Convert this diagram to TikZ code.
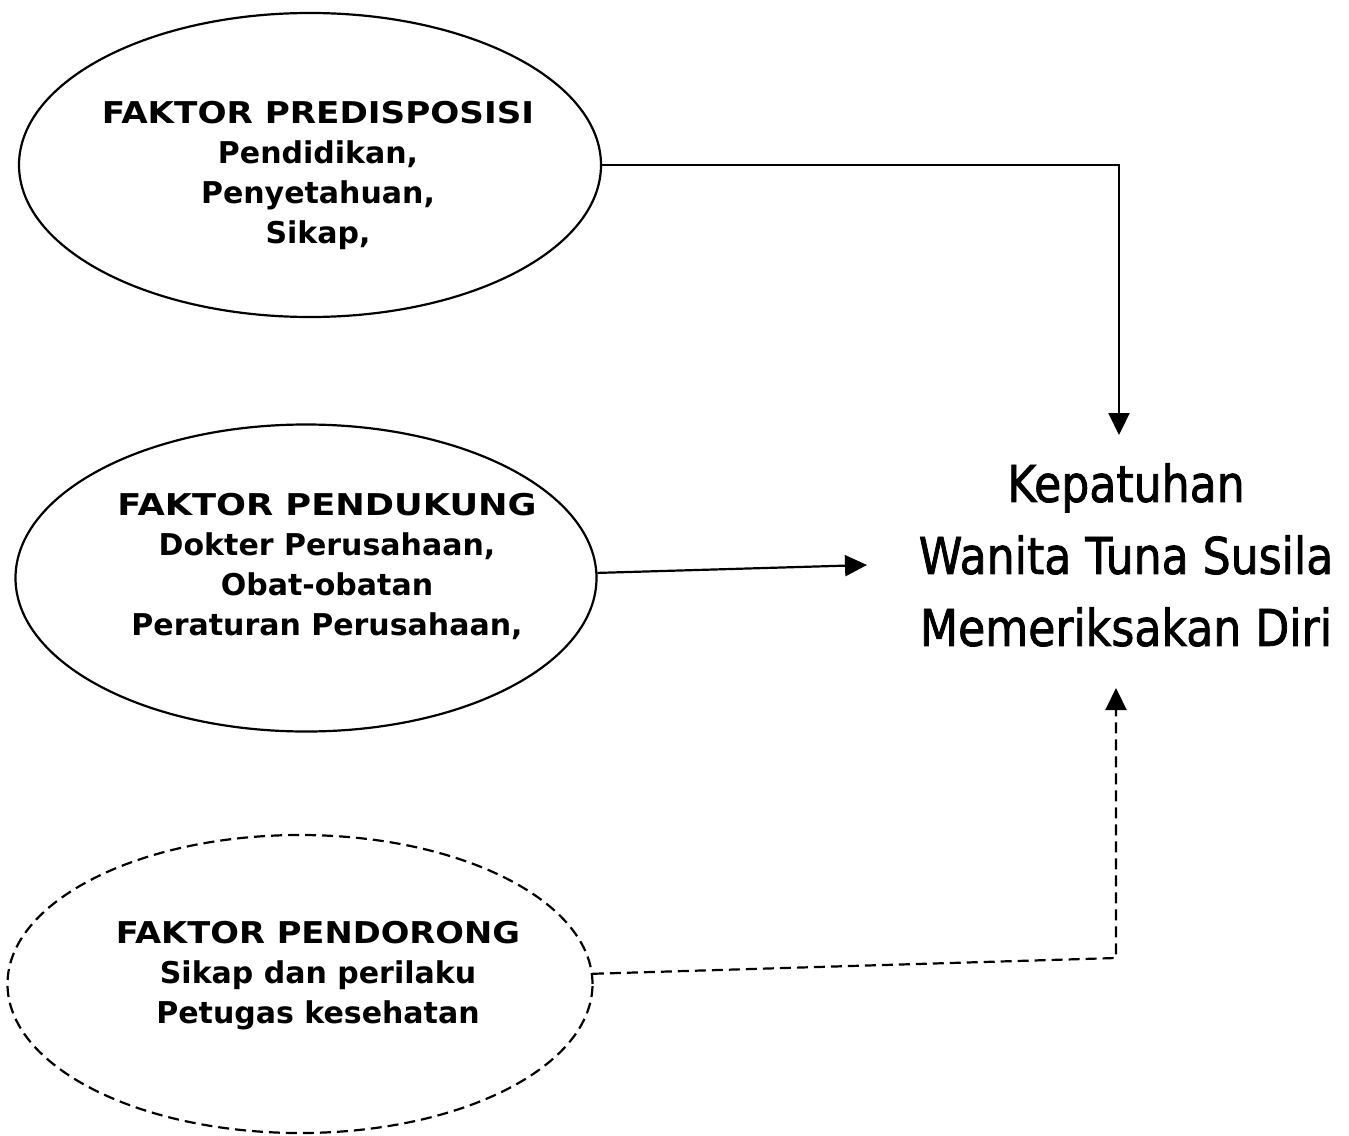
\documentclass[tikz,border=0pt]{standalone}
\usepackage{fontspec}
\usepackage{graphicx}
\setmainfont{DejaVu Sans}
\newfontfamily\tgtfont[FakeStretch=0.87,FakeBold=1.5]{DejaVu Sans}
\usetikzlibrary{shapes.geometric,arrows.meta}
\begin{document}
\begin{tikzpicture}[x=1pt,y=-1pt,
  ell/.style={draw, line width=2.2pt, ellipse, inner sep=0pt},
  dashline/.style={dash pattern=on 11pt off 6pt},
  etext/.style={align=center, inner sep=0pt, font=\fontsize{30}{40}\selectfont\bfseries},
  tgttext/.style={align=center, inner sep=0pt, font=\tgtfont\fontsize{50.75}{72}\selectfont},
  conn/.style={line width=2.2pt, -{Triangle[length=22pt,width=21pt]}}
]
\fill[white] (0,0) rectangle (1349,1135);
\useasboundingbox (0,0) rectangle (1349,1135);

% ellipses
\node[ell, minimum width=582pt, minimum height=304pt] (e1) at (310,165) {};
\node[ell, minimum width=581pt, minimum height=307pt] (e2) at (306,578) {};
\node[ell, dashline, minimum width=585pt, minimum height=298pt] (e3) at (300,984) {};

% ellipse texts
\node[etext] (t1) at (318,175) {\scalebox{1.14}[1]{FAKTOR PREDISPOSISI}\\Pendidikan,\\Penyetahuan,\\Sikap,};
\node[etext] (t2) at (327,566) {\scalebox{1.175}[1]{FAKTOR PENDUKUNG}\\Dokter Perusahaan,\\Obat-obatan\\Peraturan Perusahaan,};
\node[etext] (t3) at (318,976) {\scalebox{1.125}[1]{FAKTOR PENDORONG}\\Sikap dan perilaku\\Petugas kesehatan};

% target
\node[tgttext] (tgt) at (1126,555) {Kepatuhan\\Wanita Tuna Susila\\Memeriksakan Diri};

% connector ends
\coordinate (a1) at (1119,435);
\coordinate (a2) at (867,565);
\coordinate (c3) at (1116,958);
\coordinate (a3) at (1116,688);

\draw[conn] (e1.0.4) -| (a1);
\draw[conn] (e2.1.2) -- (a2);
\draw[conn, dashline] (e3.2.2) -- (c3) -- (a3);
\end{tikzpicture}
\end{document}
